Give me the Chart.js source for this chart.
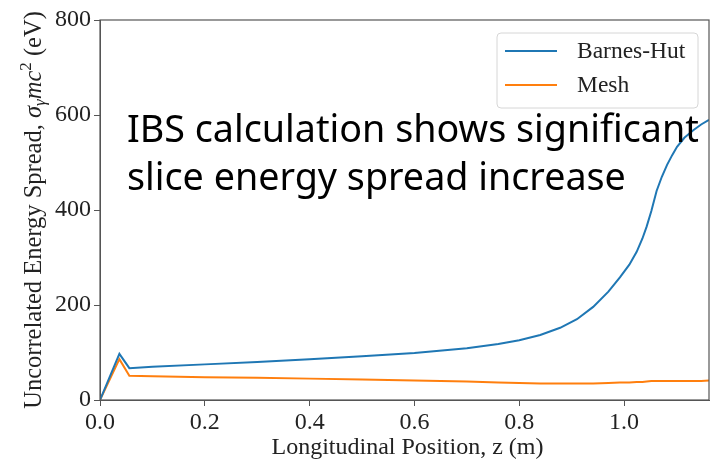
<!DOCTYPE html>
<html>
<head>
<meta charset="utf-8">
<script src="https://cdn.jsdelivr.net/npm/chart.js@4/dist/chart.umd.min.js"></script>
<style>
  html, body { margin: 0; padding: 0; background: #fff; }
  #wrap { position: relative; width: 710px; height: 461px; }
  #nota {
    position: absolute; left: 127px; top: 104px;
    font-family: "Noto Sans", sans-serif; font-size: 37.7px; line-height: 48px;
    color: #000; white-space: nowrap; pointer-events: none;
  }
</style>
</head>
<body>
<div id="wrap">
  <canvas id="grafico" width="710" height="461"></canvas>
  <div id="nota">IBS calculation shows significant<br>slice energy spread increase</div>
</div>
<script>
// ----------------- DATOS -----------------
const posZ = [0, 0.037, 0.056, 0.1, 0.2, 0.3, 0.4, 0.5, 0.6, 0.7, 0.76, 0.8, 0.84, 0.878, 0.91, 0.941,
              0.97, 0.992, 1.01, 1.024, 1.035, 1.043, 1.052, 1.062, 1.072, 1.082, 1.092, 1.101,
              1.115, 1.132, 1.147, 1.162];
const barnesHut = [0, 97, 67, 70, 75, 80, 86, 92, 99, 109, 118, 126, 137, 152, 170, 196,
                   228, 258, 285, 312, 340, 365, 398, 440, 470, 495, 516, 533,
                   552, 568, 580, 590];
const mesh = [0, 86, 51, 50, 48, 47, 45, 43, 41, 39, 37, 36, 35, 35, 35, 35,
              36, 37, 37, 38, 38, 39, 40, 40, 40, 40, 40, 40,
              40, 40, 40, 41];
const ticksX = [0, 0.2, 0.4, 0.6, 0.8, 1.0];
const ticksY = [0, 200, 400, 600, 800];
const nombres = ['Barnes-Hut', 'Mesh'];
const colores = ['#1f77b4', '#ff7f0e'];

const SERIF = '"Liberation Serif", "DejaVu Serif", serif';

// marco + titulos de ejes + leyenda dibujados a mano
const extras = {
  id: 'extras',
  afterDraw(chart) {
    const { ctx, chartArea: a } = chart;
    ctx.save();
    ctx.strokeStyle = '#555';
    ctx.lineWidth = 1.2;
    ctx.strokeRect(a.left, a.top, a.right - a.left, a.bottom - a.top);

    // titulo eje x
    ctx.fillStyle = '#222';
    ctx.font = '24px ' + SERIF;
    ctx.textAlign = 'center';
    ctx.textBaseline = 'alphabetic';
    ctx.fillText('Longitudinal Position, z (m)', (a.left + a.right) / 2 + 3, 454);

    // titulo eje y (con sigma_gamma mc^2)
    const partes = [
      { t: 'Uncorrelated Energy Spread, ', f: '24.5px ' + SERIF, dy: 0 },
      { t: 'σ', f: 'italic 24.5px ' + SERIF, dy: 0 },
      { t: 'γ', f: 'italic 17px ' + SERIF, dy: 4 },
      { t: 'mc', f: 'italic 24.5px ' + SERIF, dy: 0 },
      { t: '2', f: '17px ' + SERIF, dy: -10 },
      { t: ' (eV)', f: '24.5px ' + SERIF, dy: 0 }
    ];
    let total = 0;
    partes.forEach(p => { ctx.font = p.f; p.w = ctx.measureText(p.t).width; total += p.w; });
    ctx.translate(41, (a.top + a.bottom) / 2);
    ctx.rotate(-Math.PI / 2);
    ctx.textAlign = 'left';
    let x = -total / 2;
    partes.forEach(p => { ctx.font = p.f; ctx.fillText(p.t, x, p.dy); x += p.w; });
    ctx.restore();

    // leyenda
    ctx.save();
    const bx = 497, by = 33, bw = 201, bh = 75;
    ctx.beginPath();
    ctx.roundRect(bx, by, bw, bh, 4);
    ctx.fillStyle = 'rgba(255,255,255,0.85)';
    ctx.fill();
    ctx.strokeStyle = '#d6d6d6';
    ctx.lineWidth = 1;
    ctx.stroke();
    ctx.font = '23.5px ' + SERIF;
    ctx.textBaseline = 'middle';
    nombres.forEach((n, i) => {
      const y = 51 + i * 34;
      ctx.strokeStyle = colores[i];
      ctx.lineWidth = 2;
      ctx.beginPath(); ctx.moveTo(505, y); ctx.lineTo(557, y); ctx.stroke();
      ctx.fillStyle = '#222';
      ctx.fillText(n, 577, y + 1);
    });
    ctx.restore();
  }
};

const ctx = document.getElementById('grafico');
new Chart(ctx, {
  type: 'line',
  data: {
    datasets: [
      { label: nombres[0], data: posZ.map((z, i) => ({ x: z, y: barnesHut[i] })),
        borderColor: colores[0], borderWidth: 2, pointRadius: 0, tension: 0 },
      { label: nombres[1], data: posZ.map((z, i) => ({ x: z, y: mesh[i] })),
        borderColor: colores[1], borderWidth: 2, pointRadius: 0, tension: 0 }
    ]
  },
  options: {
    responsive: false,
    animation: false,
    layout: { padding: { top: 20, right: 1, left: 0, bottom: 0 } },
    plugins: { legend: { display: false }, tooltip: { enabled: false } },
    scales: {
      x: {
        type: 'linear', min: 0, max: 1.162,
        afterBuildTicks: s => { s.ticks = ticksX.map(v => ({ value: v })); },
        afterFit: s => { s.height = 61; },
        grid: { drawOnChartArea: false, tickLength: 6, color: '#555' },
        border: { color: '#555' },
        ticks: { color: '#222', padding: 2, maxRotation: 0,
                 font: { family: SERIF, size: 24 },
                 callback: v => v.toFixed(1) }
      },
      y: {
        min: 0, max: 800,
        afterBuildTicks: s => { s.ticks = ticksY.map(v => ({ value: v })); },
        afterFit: s => { s.width = 100; },
        grid: { drawOnChartArea: false, tickLength: 6, color: '#555' },
        border: { color: '#555' },
        ticks: { color: '#222', padding: 3, font: { family: SERIF, size: 24 } }
      }
    }
  },
  plugins: [extras]
});
</script>
</body>
</html>
